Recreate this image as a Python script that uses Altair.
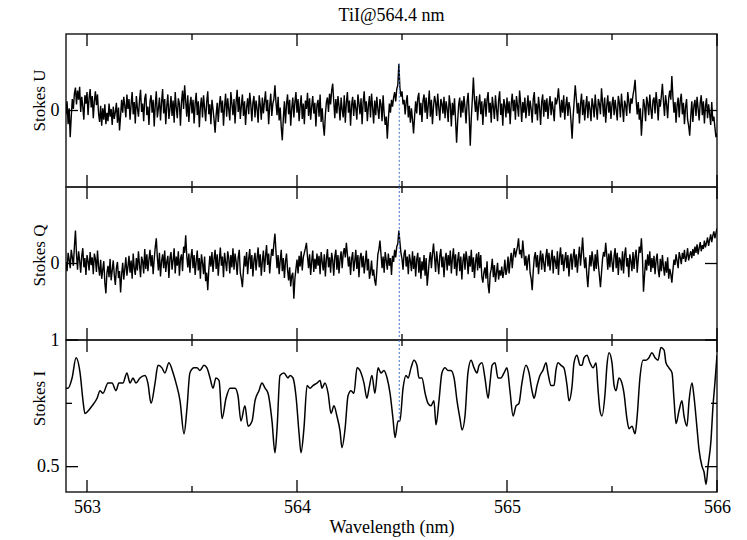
import altair as alt
import pandas as pd

TITLE = "TiI@564.4 nm"
WL_START, WL_END = 562.9, 566.0

# Stokes U (arbitrary units, symmetric range -100..100), sampled every ~0.005 nm
STOKES_U = [
    -5, 12, -18, 3, -35, -8, 15, 2, 22, 30, 8, 26, 14, 31, -2, 18, 5, -12, 20, 9,
    24, -6, 16, 28, 4, 19, -10, 12, 25, 7, 21, -4, -15, 6, -20, 3, -12, 8, -18, -3,
    -14, 9, -8, 2, -19, 5, -11, -2, 10, -16, 4, -26, -7, 14, -3, 18, 6, -9, 21, 2,
    15, -12, 8, 24, -5, 11, -17, 19, 3, -8, 13, 27, -2, 9, -14, 16, 22, -6, 5, -19,
    12, 20, -3, 14, -21, 7, 25, -9, 3, 17, -13, 10, 28, -4, 15, -18, 6, 21, -11, 2,
    19, -7, 13, -16, 24, 4, -10, 16, 9, -20, 11, 26, 2, 33, 12, -8, 20, -15, 7, 18,
    -4, 14, -17, 9, 23, -6, 12, -22, 5, 17, -9, 20, 3, -14, 11, 25, -5, 8, -18, 14,
    2, -12, -29, -6, 10, -15, 7, 19, -3, 13, -20, 5, 22, -8, 16, 1, -13, 24, 9, -6,
    15, -17, 11, 27, -2, 18, -11, 6, 21, -7, 12, -19, 4, 16, -5, 23, 8, -14, 10, 19,
    -9, 13, 2, -16, 20, 7, -12, 17, -4, 11, 25, -1, 14, -18, 6, 22, -7, 9, 15, 33,
    10, -6, 18, -13, 4, -22, -39, -10, 12, -17, 8, 21, -5, 14, -20, 3, 17, -9, 11, 24,
    -3, 15, -14, 6, 20, -11, 9, -18, 13, 2, 23, -7, 16, -12, 5, 19, -4, 10, -21, 7,
    14, -8, 21, -15, 3, -19, -33, -6, 11, 17, -2, 22, 8, 26, 35, 12, -10, 15, -4, 19,
    6, -13, 17, 1, -9, 20, -16, 10, 24, -3, 13, -20, 7, 18, -7, 14, 3, -12, 21, 9,
    -5, 16, -18, 11, 25, -2, 12, -14, 6, 19, -9, 22, 4, -17, 13, -6, 18, 2, -11, 15,
    8, -14, 20, -4, -19, -8, -37, -12, 9, -3, 14, 5, 17, 24, 12, 28, 33, 61, 30, 18,
    25, 8, 14, -5, 11, 20, -9, 6, -16, 3, -12, -30, -8, 12, -4, 16, 23, -6, 10, -15,
    13, 21, -3, 17, -11, 7, 26, -8, 14, -18, 5, 19, 11, -7, 22, 4, -13, 15, 9, -4,
    18, -10, 12, 2, -15, 20, 7, -21, 10, -6, 16, -12, -42, -14, 8, 17, -9, 13, -3, 19,
    4, -17, 11, 23, -7, -46, -10, 15, 43, 14, -2, 19, -13, 8, 21, -5, 12, -19, 6, 16,
    -8, 14, 24, -3, 10, -16, 18, 5, -11, 20, 2, -14, 13, 25, -6, 9, -20, 15, 7, -9,
    17, -4, 12, -18, 8, 22, -1, 14, -12, 19, 6, -8, 26, 10, -15, 11, -3, 17, -10, 5,
    20, -7, 13, 2, -16, 15, 24, -5, 9, -13, 18, 4, -19, 11, 21, -8, 14, -2, 16, -11,
    7, 19, -6, 12, 1, -14, 17, 8, 15, 29, 10, -9, 14, -3, 20, -12, 6, 18, -7, 11,
    3, -15, -37, -8, 13, 33, 16, -4, 10, -17, 8, 22, -6, 14, -13, 5, 19, -10, 12, 2,
    -14, 16, 7, -9, 21, 3, -12, 15, 9, -5, 29, 11, -8, 17, -16, 6, 20, -3, 12, -11,
    8, 18, -6, 14, 1, -13, 19, 10, -9, 22, 4, -15, 13, 7, -7, 24, 12, -4, 16, 9,
    20, 28, 40, 14, -5, 11, -12, 3, -33, -9, 15, 6, -14, 18, 10, -6, 21, 2, -11, 13,
    17, -4, 24, 9, -13, 15, 5, 19, 35, 12, -7, 20, 8, -10, 16, 26, 14, 45, 18, -3,
    11, -16, 7, 17, -9, 13, 22, -5, 10, -18, 4, 15, -12, -20, -33, -8, 12, -15, 6, 14,
    -7, 18, 3, -13, 10, 20, -6, 12, -17, 5, 16, -10, 8, -4, -19, 11, -14, -8, -22, -35,
    -30,
]

# Stokes Q (arbitrary units, symmetric range -100..100)
STOKES_Q = [
    2, -10, 14, 5, -6, 18, 8, -3, 22, 43, 12, -8, 16, 4, -12, 10, 20, -5, 7, -15,
    11, 3, -9, 15, -2, 8, -14, 13, 6, -11, 17, -4, -16, 5, -20, -8, 3, -25, -39, -12,
    -3, -18, 6, -22, -9, 4, -15, -28, -6, 2, -19, -10, -38, -14, 1, -21, -7, 8, -16, -4,
    10, -12, 4, -20, 13, -6, -15, 7, -9, 16, -2, -18, 9, 3, -13, 19, -7, 12, -10, 5,
    18, -4, 11, -14, 6, 21, 33, 8, -9, 14, -17, 3, 12, -6, 17, -11, 2, 10, -19, 7,
    15, -8, 4, 20, -13, 9, -3, 16, -16, 6, 12, -10, 22, 14, 37, 10, -5, 13, -12, 8,
    19, -6, 11, -15, 3, 17, -9, 7, -20, 12, 1, -14, 9, -23, -12, -35, -8, 10, -4, 15,
    -11, 6, 18, -7, 12, -16, 4, 21, -3, 9, -18, 14, 2, -10, 16, 7, -13, 11, -5, 20,
    -8, 13, 3, -15, 8, 18, -12, -20, -31, -9, 10, -4, 15, -14, 6, 19, -7, 11, -17, 4,
    14, -9, 7, 21, -5, 12, -16, 3, 17, -11, 9, 24, -2, 13, -13, 6, 19, 10, 26, 39,
    15, -6, 11, -14, 4, 18, -10, 7, -19, 2, 13, -8, -22, -5, -30, -16, -12, -46, -20, -7,
    5, -13, 10, -4, 16, -9, 8, 14, 20, 27, 9, -6, 12, -15, 3, 17, -11, 6, -7, 13,
    -3, 10, -14, 15, 2, -9, 12, -17, 6, 19, -5, 8, -12, 14, 4, -16, 9, 18, -8, 11,
    -13, 5, 16, -6, 13, 20, 8, 27, 12, -4, 9, -15, 6, 15, -10, 3, 18, -7, 11, -18,
    7, 14, -5, 10, -13, 2, 17, -9, 6, -20, -11, 4, -16, -8, -22, -29, -10, 12, 18, 30,
    12, -6, 9, -12, 15, 4, -8, 13, -3, 7, -15, 10, 2, 18, 8, 22, 26, 43, 28, 14,
    6, -8, 13, 18, -4, 9, -14, 12, 3, -10, 16, -7, 10, -17, 5, 14, -12, 8, -20, 3,
    -9, 11, -16, 7, -29, -13, 4, 15, -6, 12, 26, 8, -11, 16, 2, -14, 10, 19, -5, 9,
    -18, 6, 14, -9, 11, -3, 17, -13, 7, 20, -7, 12, -16, 4, 15, -10, 9, -21, 3, 13,
    -8, 16, 5, -14, 10, -4, 18, -11, 8, -19, 2, 13, -9, 15, -6, 11, -17, -25, -12, -5,
    -20, 3, -28, -39, -14, -7, 6, -18, -2, -24, -12, 1, -21, -9, -16, -4, -19, -11, 5, -15,
    -8, 9, -13, 3, 14, -6, 11, 20, 8, 16, 22, 33, 12, 18, 7, 30, 14, -3, 10, -9,
    6, 12, -12, -20, -35, -10, 8, 15, -5, 11, -14, 4, 17, -8, 13, 1, -11, 9, 19, -4,
    14, -9, 6, 18, -13, 10, 3, -7, 16, -15, 8, 21, -2, 12, -10, 5, 15, -6, 11, -17,
    4, 13, -8, 9, 19, -5, 12, -12, 7, 22, -3, 14, 34, 10, -6, 8, -14, -31, -9, 11,
    -4, 16, 3, -10, 12, -7, 18, -2, -16, -31, -12, 6, 15, 9, 27, 11, -8, 13, -5, 17,
    2, -11, 10, 20, -6, 14, -15, 8, 4, -9, 16, -13, 11, 21, -4, 7, -18, 12, 3, -10,
    15, -7, 9, 18, -12, 6, 22, 14, 33, 8, -37, -15, 5, -9, 12, -3, 16, -11, 7, -6,
    10, -14, 4, 13, -8, -18, 6, -10, 11, -4, -16, 3, -12, 8, -20, -7, -14, -25, -9, 5,
    -2, 12, 3, -6, 15, 8, -1, 14, 6, 18, 2, 9, 20, 4, 11, 16, 7, 19, 10, 22,
    14, 25, 12, 20, 28, 16, 24, 19, 30, 21, 27, 34, 23, 31, 38, 28, 36, 42, 33, 40,
    46,
]

# Stokes I (normalised intensity) read at irregular wavelengths
I_WL = [
    562.900, 562.910, 562.929, 562.948, 562.967, 562.981, 562.990, 563.005, 563.024, 563.048,
    563.062, 563.076, 563.100, 563.119, 563.138, 563.152, 563.171, 563.190, 563.205, 563.219,
    563.233, 563.252, 563.276, 563.290, 563.305, 563.324, 563.338, 563.357, 563.371, 563.390,
    563.410, 563.424, 563.443, 563.462, 563.476, 563.490, 563.510, 563.524, 563.538, 563.557,
    563.571, 563.586, 563.600, 563.614, 563.629, 563.643, 563.662, 563.681, 563.705, 563.719,
    563.733, 563.752, 563.767, 563.786, 563.800, 563.819, 563.833, 563.848, 563.862, 563.881,
    563.895, 563.905, 563.919, 563.938, 563.957, 563.967, 563.981, 563.995, 564.010, 564.019,
    564.033, 564.048, 564.062, 564.076, 564.095, 564.110, 564.119, 564.133, 564.148, 564.162,
    564.176, 564.190, 564.205, 564.214, 564.229, 564.243, 564.257, 564.271, 564.286, 564.305,
    564.319, 564.333, 564.343, 564.357, 564.371, 564.386, 564.400, 564.414, 564.429, 564.443,
    564.457, 564.467, 564.481, 564.490, 564.505, 564.519, 564.529, 564.543, 564.557, 564.571,
    564.581, 564.595, 564.610, 564.624, 564.638, 564.652, 564.662, 564.676, 564.690, 564.705,
    564.719, 564.733, 564.748, 564.762, 564.776, 564.786, 564.800, 564.814, 564.829, 564.843,
    564.857, 564.867, 564.881, 564.895, 564.910, 564.919, 564.929, 564.943, 564.957, 564.971,
    564.986, 565.000, 565.014, 565.029, 565.043, 565.057, 565.071, 565.090, 565.105, 565.119,
    565.129, 565.143, 565.157, 565.171, 565.186, 565.195, 565.210, 565.224, 565.233, 565.243,
    565.257, 565.271, 565.286, 565.295, 565.310, 565.319, 565.333, 565.348, 565.357, 565.367,
    565.381, 565.395, 565.410, 565.424, 565.433, 565.443, 565.452, 565.467, 565.476, 565.486,
    565.500, 565.510, 565.519, 565.533, 565.543, 565.557, 565.571, 565.581, 565.595, 565.610,
    565.619, 565.633, 565.648, 565.662, 565.676, 565.690, 565.705, 565.719, 565.733, 565.748,
    565.757, 565.771, 565.786, 565.795, 565.805, 565.819, 565.833, 565.843, 565.857, 565.867,
    565.881, 565.890, 565.905, 565.914, 565.929, 565.938, 565.948, 565.957, 565.971, 565.981,
    565.990, 566.000,
]
I_VAL = [
    0.81, 0.81, 0.85, 0.93, 0.87, 0.76, 0.71, 0.72, 0.74, 0.77,
    0.80, 0.79, 0.83, 0.83, 0.80, 0.83, 0.83, 0.87, 0.83, 0.85,
    0.83, 0.85, 0.86, 0.83, 0.75, 0.83, 0.90, 0.89, 0.87, 0.91,
    0.87, 0.83, 0.76, 0.63, 0.73, 0.87, 0.89, 0.89, 0.88, 0.90,
    0.89, 0.85, 0.81, 0.85, 0.84, 0.69, 0.77, 0.81, 0.81, 0.78,
    0.68, 0.74, 0.66, 0.68, 0.76, 0.80, 0.83, 0.81, 0.79, 0.68,
    0.555, 0.65, 0.86, 0.87, 0.85, 0.86, 0.85, 0.78, 0.63, 0.555,
    0.65, 0.82, 0.81, 0.82, 0.83, 0.84, 0.81, 0.83, 0.79, 0.71,
    0.74, 0.70, 0.64, 0.575, 0.65, 0.78, 0.80, 0.79, 0.89, 0.87,
    0.83, 0.77, 0.81, 0.86, 0.79, 0.89, 0.87, 0.88, 0.85, 0.79,
    0.69, 0.615, 0.68, 0.68, 0.81, 0.86, 0.85, 0.89, 0.92, 0.90,
    0.85, 0.85, 0.79, 0.75, 0.74, 0.76, 0.665, 0.76, 0.87, 0.89,
    0.88, 0.88, 0.85, 0.76, 0.69, 0.645, 0.70, 0.87, 0.92, 0.89,
    0.87, 0.90, 0.91, 0.85, 0.77, 0.83, 0.90, 0.91, 0.85, 0.85,
    0.87, 0.89, 0.80, 0.70, 0.74, 0.75, 0.83, 0.90, 0.87, 0.80,
    0.77, 0.82, 0.86, 0.88, 0.91, 0.87, 0.82, 0.82, 0.88, 0.91,
    0.90, 0.89, 0.82, 0.76, 0.82, 0.91, 0.94, 0.90, 0.90, 0.93,
    0.94, 0.91, 0.89, 0.91, 0.81, 0.72, 0.70, 0.79, 0.90, 0.95,
    0.91, 0.82, 0.80, 0.85, 0.84, 0.79, 0.69, 0.65, 0.66, 0.63,
    0.69, 0.85, 0.92, 0.92, 0.93, 0.95, 0.93, 0.92, 0.97, 0.96,
    0.91, 0.89, 0.87, 0.77, 0.67, 0.72, 0.76, 0.70, 0.66, 0.76,
    0.83, 0.78, 0.65, 0.57, 0.50, 0.48, 0.43, 0.50, 0.60, 0.74,
    0.83, 0.94,
]

X_MAJOR = [563, 564, 565, 566]
X_MINOR = [563.5, 564.5, 565.5]

MARK_WL = 564.487        # dashed marker position (nm)
MARK_U_TOP = 61          # top of the marker in the Stokes U panel
MARK_I_BOTTOM = 0.68     # bottom of the marker in the Stokes I panel

FONT = "Liberation Serif"
W = 651
MAJ, MIN = 12, 6


def grid(vals):
    n = len(vals)
    step = (WL_END - WL_START) / (n - 1)
    return pd.DataFrame({"wl": [WL_START + k * step for k in range(n)], "v": vals})


xscale = alt.Scale(domain=[WL_START, WL_END], nice=False, zero=False)


def panel(df, ydom, ytitle, title_y, y_major, y_minor, height, bottom,
          mark_top, mark_bottom, interp, line_w, top_title=None):
    if bottom:
        xaxis = alt.Axis(values=X_MAJOR, ticks=False, domain=False, grid=False,
                         labelFont=FONT, labelFontSize=18, labelColor="black",
                         labelPadding=6, labelFlush=False, format="d",
                         title="Wavelength (nm)", titleFont=FONT, titleFontSize=18,
                         titleFontWeight="normal", titleColor="black", titlePadding=2)
    else:
        xaxis = None
    X = alt.X("wl:Q", scale=xscale, axis=xaxis)
    yaxis = alt.Axis(values=y_major, ticks=False, domain=False, grid=False,
                     format="~g", labelFont=FONT, labelFontSize=18, labelColor="black",
                     labelPadding=7, title=ytitle, titleFont=FONT, titleFontSize=17,
                     titleFontWeight="normal", titleColor="black",
                     titleX=-22, titleY=title_y, titleBaseline="alphabetic",
                     titleAngle=270)
    Y = alt.Y("v:Q", scale=alt.Scale(domain=ydom, nice=False, zero=False), axis=yaxis)

    layers = []
    # x ticks (inward, top and bottom)
    for vals, ln in ((X_MAJOR, MAJ), (X_MINOR, MIN)):
        tdf = pd.DataFrame({"wl": vals})
        layers.append(alt.Chart(tdf).mark_rule(color="black", strokeWidth=1.3).encode(
            x=X, y=alt.value(0), y2=alt.value(ln)))
        layers.append(alt.Chart(tdf).mark_rule(color="black", strokeWidth=1.3).encode(
            x=X, y=alt.value(height), y2=alt.value(height - ln)))
    # y ticks (inward, left and right)
    for vals, ln in ((y_major, MAJ), (y_minor, MIN)):
        if not vals:
            continue
        tdf = pd.DataFrame({"v": vals})
        layers.append(alt.Chart(tdf).mark_rule(color="black", strokeWidth=1.3).encode(
            y=Y, x=alt.value(0), x2=alt.value(ln)))
        layers.append(alt.Chart(tdf).mark_rule(color="black", strokeWidth=1.3).encode(
            y=Y, x=alt.value(W), x2=alt.value(W - ln)))
    # data trace
    line_kw = dict(color="black", strokeWidth=line_w, clip=True)
    if interp:
        line_kw["interpolate"] = interp
    layers.append(alt.Chart(df).mark_line(**line_kw).encode(x=X, y=Y))
    # dashed marker
    mdf = pd.DataFrame({"wl": [MARK_WL], "v": [mark_top], "v2": [mark_bottom]})
    layers.append(alt.Chart(mdf).mark_rule(color="#4a72c4", strokeWidth=1,
                                           strokeDash=[2, 2]).encode(
        x=X, y=Y, y2=alt.Y2("v2:Q")))

    props = dict(width=W, height=height)
    if top_title:
        props["title"] = alt.TitleParams(top_title, font=FONT, fontSize=18,
                                         fontWeight="normal", color="black",
                                         anchor="middle", frame="group", offset=8)
    return alt.layer(*layers).properties(**props)


u_panel = panel(grid(STOKES_U), [-100, 100], "Stokes U", 66, [0], [], 153, False,
                MARK_U_TOP, -100, None, 1.4, top_title=TITLE)
q_panel = panel(grid(STOKES_Q), [-100, 100], "Stokes Q", 68, [0], [], 153, False,
                100, -100, None, 1.4)
i_panel = panel(pd.DataFrame({"wl": I_WL, "v": I_VAL}), [0.4, 1.0], "Stokes I", 58,
                [0.5, 1.0], [0.75], 152, True, 1.0, MARK_I_BOTTOM, "monotone", 1.5)

chart = alt.vconcat(u_panel, q_panel, i_panel, spacing=0, bounds="flush").resolve_scale(
    y="independent"
).properties(
    padding={"left": 29, "top": 6, "right": 5, "bottom": 5},
    background="white",
).configure_view(
    stroke="#222222", strokeWidth=1.5
)

chart.save("out.html", embed_options={"renderer": "svg", "actions": False})
